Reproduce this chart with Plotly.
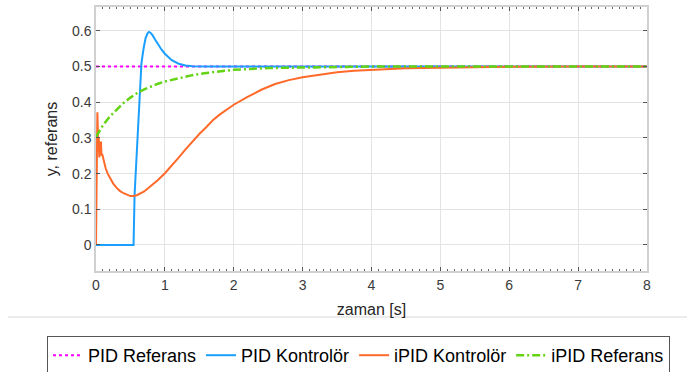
import plotly.graph_objects as go

# ---- data ----
pid_ref_t = [0, 8]
pid_ref_y = [0.5, 0.5]

pid_t = [0, 0.545, 0.56, 0.6, 0.64, 0.66, 0.69, 0.72, 0.75, 0.77, 0.79, 0.82,
         0.86, 0.9, 0.95, 1.0, 1.1, 1.2, 1.3, 1.4, 1.6, 8]
pid_y = [0, 0, 0.14, 0.30, 0.46, 0.51, 0.55, 0.58, 0.594, 0.597, 0.595, 0.588,
         0.575, 0.562, 0.548, 0.536, 0.518, 0.508, 0.503, 0.501, 0.5, 0.5]

ipid_t = [0, 0.005, 0.012, 0.02, 0.026, 0.032, 0.04, 0.048, 0.056, 0.064, 0.072,
          0.08, 0.09, 0.1, 0.12, 0.14, 0.17, 0.2, 0.25, 0.3, 0.35, 0.4, 0.45,
          0.5, 0.55, 0.6, 0.7, 0.8, 0.9, 1.0, 1.1, 1.2, 1.3, 1.4, 1.5, 1.6, 1.7,
          1.8, 1.9, 2.0, 2.2, 2.4, 2.6, 2.8, 3.0, 3.25, 3.5, 3.75, 4.0, 4.5,
          5.0, 5.5, 6.0, 7.0, 8.0]
ipid_y = [0, 0.12, 0.3, 0.372, 0.33, 0.26, 0.3, 0.245, 0.29, 0.27, 0.29,
          0.25, 0.255, 0.245, 0.23, 0.215, 0.2, 0.188, 0.172, 0.16, 0.151, 0.145, 0.14,
          0.137, 0.137, 0.14, 0.15, 0.165, 0.182, 0.201, 0.222, 0.245, 0.268, 0.29, 0.311, 0.33, 0.35,
          0.366, 0.38, 0.393, 0.415, 0.435, 0.451, 0.462, 0.47, 0.478, 0.484, 0.488, 0.491, 0.495,
          0.497, 0.4985, 0.4993, 0.5, 0.5]

ipid_ref_t = [0, 0.05, 0.1, 0.2, 0.3, 0.4, 0.5, 0.6, 0.7, 0.8, 0.9, 1.0, 1.2,
              1.4, 1.6, 1.8, 2.0, 2.5, 3.0, 4.0, 8.0]
ipid_ref_y = [0.303, 0.32, 0.335, 0.36, 0.38, 0.398, 0.413, 0.426, 0.436, 0.445,
              0.452, 0.458, 0.468, 0.476, 0.482, 0.487, 0.491, 0.496, 0.498, 0.5, 0.5]

x_ticks = [0, 1, 2, 3, 4, 5, 6, 7, 8]
y_ticks = [0, 0.1, 0.2, 0.3, 0.4, 0.5, 0.6]

FONT = "Liberation Sans, Arial, sans-serif"

fig = go.Figure()
fig.add_trace(go.Scatter(x=pid_ref_t, y=pid_ref_y, mode="lines", name="PID Referans",
                         line=dict(color="#FF00FF", width=2, dash="dot")))
fig.add_trace(go.Scatter(x=pid_t, y=pid_y, mode="lines", name="PID Kontrolör",
                         line=dict(color="#1A9FFF", width=2)))
fig.add_trace(go.Scatter(x=ipid_t, y=ipid_y, mode="lines", name="iPID Kontrolör",
                         line=dict(color="#FF6A2B", width=2)))
fig.add_trace(go.Scatter(x=ipid_ref_t, y=ipid_ref_y, mode="lines", name="iPID Referans",
                         line=dict(color="#63D414", width=2.5, dash="8px,3px,2px,3px")))

plot_l, plot_r, plot_t, plot_b = 96, 647, 7, 271
W, H = 687, 372
pw, ph = plot_r - plot_l, plot_b - plot_t

axis_common = dict(
    showgrid=True, gridcolor="#E3E3E3", gridwidth=1,
    showline=True, linecolor="#D0D0D0", linewidth=1.5, mirror="ticks",
    ticks="inside", ticklen=4, tickcolor="#555555", tickwidth=1,
    zeroline=False,
    tickfont=dict(family=FONT, size=14, color="#3A3A3A"),
)

fig.update_xaxes(range=[0, 8], tickvals=x_ticks, ticktext=[str(v) for v in x_ticks],
                 title=dict(text="zaman [s]", font=dict(family=FONT, size=16, color="#262626"), standoff=12),
                 minor=dict(dtick=0.1, ticks="inside", ticklen=2, tickcolor="#666666", showgrid=False),
                 **axis_common)
fig.update_yaxes(range=[-0.073, 0.667], tickvals=y_ticks, ticktext=[f"{v:g}" for v in y_ticks],
                 title=dict(text="y, referans", font=dict(family=FONT, size=16, color="#262626"), standoff=10),
                 **axis_common)

fig.add_shape(type="line", xref="paper", yref="paper",
              x0=(8 - plot_l) / pw, x1=(W - plot_l) / pw,
              y0=-(317 - plot_b) / ph, y1=-(317 - plot_b) / ph,
              line=dict(color="#EBEBEB", width=2))

fig.update_layout(
    width=W, height=H,
    margin=dict(l=plot_l, r=W - plot_r, t=plot_t, b=H - plot_b, autoexpand=False),
    paper_bgcolor="white", plot_bgcolor="white",
    font=dict(family=FONT),
    showlegend=True,
    legend=dict(orientation="h", x=(47 - plot_l) / pw, y=-(336 - plot_b) / ph,
                xanchor="left", yanchor="top",
                bgcolor="white", bordercolor="#555555", borderwidth=1,
                font=dict(family=FONT, size=18, color="black"),
                tracegroupgap=0, itemwidth=30),
)

fig.write_html("out.html")
